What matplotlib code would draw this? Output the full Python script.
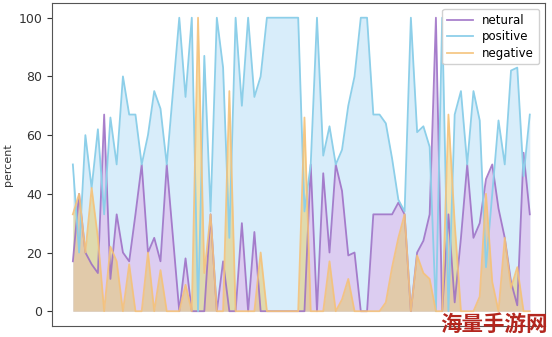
import matplotlib
matplotlib.use("Agg")
import matplotlib.pyplot as plt
import numpy as np

# percent of each sentiment per item
netural = [17, 40, 20, 16, 13, 67, 11, 33, 20, 17, 33, 50, 20, 25, 17, 50, 25, 0, 18, 0,
           0, 0, 33, 0, 17, 0, 0, 30, 0, 27, 0, 0, 0, 0, 0, 0, 0, 0, 50, 0,
           47, 20, 50, 41, 19, 20, 0, 0, 33, 33, 33, 33, 37, 33, 0, 20, 24, 33, 100, 0,
           33, 3, 25, 50, 25, 30, 45, 50, 35, 25, 10, 2, 54, 33]
positive = [50, 20, 60, 42, 62, 33, 66, 50, 80, 67, 67, 50, 60, 75, 69, 50, 75, 100, 73, 100,
            0, 87, 34, 100, 83, 25, 100, 70, 100, 73, 80, 100, 100, 100, 100, 100, 100, 34, 50, 100,
            53, 63, 50, 55, 70, 80, 100, 100, 67, 67, 64, 52, 38, 34, 100, 61, 63, 56, 0, 100,
            0, 67, 75, 50, 75, 65, 15, 40, 65, 50, 82, 83, 46, 67]
negative = [33, 40, 20, 42, 25, 0, 22, 17, 0, 16, 0, 0, 20, 0, 14, 0, 0, 0, 9, 0,
            100, 13, 33, 0, 0, 75, 0, 0, 0, 0, 20, 0, 0, 0, 0, 0, 0, 66, 0, 0,
            0, 17, 0, 4, 11, 0, 0, 0, 0, 0, 3, 15, 25, 33, 0, 19, 13, 11, 0, 0,
            67, 30, 0, 0, 0, 5, 40, 10, 0, 25, 8, 15, 0, 0]

x = np.arange(len(positive))

fig = plt.figure(figsize=(5.52, 3.37), dpi=100)
ax = fig.add_axes([0.094, 0.033, 0.893, 0.958])

# fills first (positive under neutral, negative translucent on top)
ax.fill_between(x, positive, color='#d8edfa', lw=0, zorder=1)
ax.fill_between(x, netural, color='#dccdf1', lw=0, zorder=2)
ax.fill_between(x, negative, color='#e6c864', alpha=0.5, lw=0, zorder=3)

ax.plot(x, netural, color='#9b6cc4', alpha=0.85, lw=1.3, label='netural', zorder=4)
ax.plot(x, positive, color='#8dcfe9', lw=1.3, label='positive', zorder=5)
ax.plot(x, negative, color='#f5c27a', alpha=0.9, lw=1.3, label='negative', zorder=6)

ax.set_xlim(-3.35, 75.4)
ax.set_ylim(-5, 105)
ax.set_xticks([])
ax.set_yticks([0, 20, 40, 60, 80, 100])
ax.tick_params(axis='y', labelsize=9, colors='#333333')
ax.set_ylabel('percent', fontsize=8, color='#333333')
for s in ax.spines.values():
    s.set_color('#555555')
ax.legend(loc='upper right', fontsize=8.5, handlelength=2.2, borderpad=0.4,
          labelspacing=0.3, framealpha=0.9)

fig.text(0.993, 0.005, '海量手游网', ha='right', va='bottom', fontsize=15.5,
         fontweight='bold', color='#b3261e', family=['Noto Sans CJK SC', 'DejaVu Sans'])

fig.savefig('out.png', dpi=100)
